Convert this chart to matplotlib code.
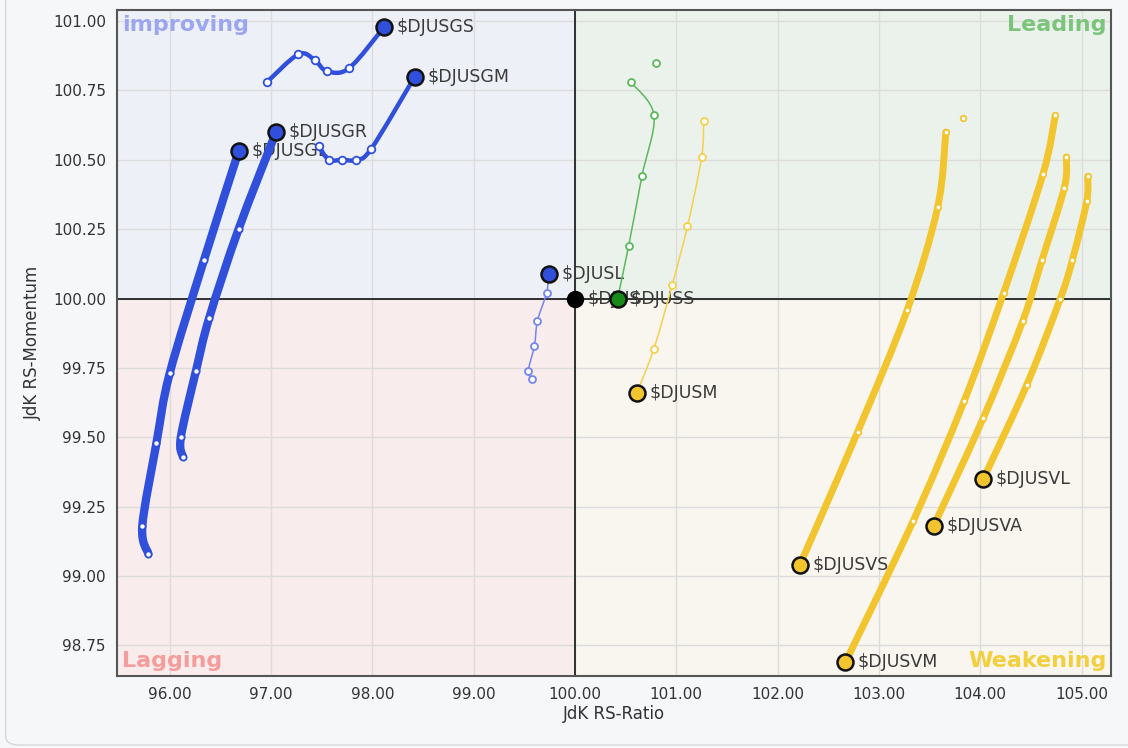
import numpy as np
import matplotlib.pyplot as plt
from matplotlib.path import Path
from matplotlib.patches import PathPatch, Rectangle, FancyBboxPatch

# ---------------------------------------------
# data: tails (oldest -> newest), last point is the head
# ---------------------------------------------
gs_x = [96.96, 97.27, 97.43, 97.55, 97.77, 98.12]
gs_y = [100.78, 100.88, 100.86, 100.82, 100.83, 100.98]

gm_x = [97.47, 97.57, 97.70, 97.84, 97.99, 98.42]
gm_y = [100.55, 100.50, 100.50, 100.50, 100.54, 100.80]

gr_x = [96.13, 96.11, 96.26, 96.39, 96.68, 97.05]
gr_y = [99.43, 99.50, 99.74, 99.93, 100.25, 100.60]

gl_x = [95.79, 95.73, 95.87, 96.00, 96.34, 96.68]
gl_y = [99.08, 99.18, 99.48, 99.73, 100.14, 100.53]

l_x = [99.58, 99.54, 99.60, 99.63, 99.72, 99.74]
l_y = [99.71, 99.74, 99.83, 99.92, 100.02, 100.09]

s_x = [100.80, 100.55, 100.78, 100.66, 100.53, 100.42]
s_y = [100.85, 100.78, 100.66, 100.44, 100.19, 100.00]

m_x = [101.27, 101.25, 101.11, 100.96, 100.78, 100.61]
m_y = [100.64, 100.51, 100.26, 100.05, 99.82, 99.66]

vs_x = [103.83, 103.66, 103.58, 103.28, 102.79, 102.22]
vs_y = [100.65, 100.60, 100.33, 99.96, 99.52, 99.04]

vm_x = [104.74, 104.62, 104.23, 103.84, 103.34, 102.67]
vm_y = [100.66, 100.45, 100.02, 99.63, 99.20, 98.69]

va_x = [104.85, 104.83, 104.61, 104.42, 104.03, 103.54]
va_y = [100.51, 100.40, 100.14, 99.92, 99.57, 99.18]

vl_x = [105.06, 105.05, 104.91, 104.79, 104.46, 104.03]
vl_y = [100.44, 100.35, 100.14, 100.00, 99.69, 99.35]

bench_name = "$DJUS"
bench_x, bench_y = 100.0, 100.0

x_ticks = [96, 97, 98, 99, 100, 101, 102, 103, 104, 105]
y_ticks = [98.75, 99.00, 99.25, 99.50, 99.75, 100.00, 100.25, 100.50, 100.75, 101.00]

BLUE = "#3050dc"
BLUE_L = "#7585ee"
GREEN = "#5cb85c"
GREEN_H = "#178a17"
YELLOW = "#f2c42e"
YELLOW_L = "#f5cf4d"

# name, xs, ys, line colour, head colour, line width, tail marker size, first drawn index
series = [
    ("$DJUSGS", gs_x, gs_y, BLUE, BLUE, 3.2, 5.5, 0),
    ("$DJUSGM", gm_x, gm_y, BLUE, BLUE, 3.2, 5.5, 0),
    ("$DJUSGR", gr_x, gr_y, BLUE, BLUE, 6.0, 4.5, 0),
    ("$DJUSGL", gl_x, gl_y, BLUE, BLUE, 6.0, 4.5, 0),
    ("$DJUSL", l_x, l_y, BLUE_L, BLUE, 1.1, 5.0, 0),
    ("$DJUSS", s_x, s_y, GREEN, GREEN_H, 1.1, 5.0, 1),
    ("$DJUSM", m_x, m_y, YELLOW_L, YELLOW, 1.1, 5.0, 0),
    ("$DJUSVS", vs_x, vs_y, YELLOW, YELLOW, 5.0, 4.0, 1),
    ("$DJUSVM", vm_x, vm_y, YELLOW, YELLOW, 5.0, 4.0, 0),
    ("$DJUSVA", va_x, va_y, YELLOW, YELLOW, 5.0, 4.0, 0),
    ("$DJUSVL", vl_x, vl_y, YELLOW, YELLOW, 5.0, 4.0, 0),
]


def smooth_path(xs, ys):
    # Catmull-Rom curve through the points, as cubic Bezier segments
    pts = np.column_stack([xs, ys])
    verts = [pts[0]]
    codes = [Path.MOVETO]
    n = len(pts)
    for i in range(n - 1):
        p0 = pts[i - 1] if i > 0 else pts[i]
        p1, p2 = pts[i], pts[i + 1]
        p3 = pts[i + 2] if i + 2 < n else pts[i + 1]
        verts += [p1 + (p2 - p0) / 6, p2 - (p3 - p1) / 6, p2]
        codes += [Path.CURVE4] * 3
    return Path(verts, codes)


fig = plt.figure(figsize=(11.28, 7.48), dpi=100, facecolor="#f6f7f9")

# rounded card border (only left/bottom show in the crop)
fig.patches.append(FancyBboxPatch((0.005, 0.004), 1.2, 1.2,
                                  boxstyle="round,pad=0,rounding_size=0.012",
                                  transform=fig.transFigure, facecolor="none",
                                  edgecolor="#d6d8dc", lw=1.0))

ax = fig.add_axes([0.1037, 0.0963, 0.8812, 0.8904])

xmin, xmax = 95.48, 105.29
ymin, ymax = 98.64, 101.04
ax.set_xlim(xmin, xmax)
ax.set_ylim(ymin, ymax)

# quadrant backgrounds
quads = [
    (xmin, bench_y, bench_x - xmin, ymax - bench_y, "#eef0f8"),
    (bench_x, bench_y, xmax - bench_x, ymax - bench_y, "#ebf2ec"),
    (xmin, ymin, bench_x - xmin, bench_y - ymin, "#f9ecec"),
    (bench_x, ymin, xmax - bench_x, bench_y - ymin, "#f8f6ef"),
]
for qx, qy, qw, qh, qc in quads:
    ax.add_patch(Rectangle((qx, qy), qw, qh, facecolor=qc, edgecolor="none", zorder=0))

ax.set_xticks(x_ticks)
ax.set_yticks(y_ticks)
ax.set_xticklabels([f"{v:.2f}" for v in x_ticks])
ax.set_yticklabels([f"{v:.2f}" for v in y_ticks])
ax.grid(True, color="#dcdcdc", lw=1.0, zorder=0.5)
ax.set_axisbelow(True)
ax.tick_params(length=0, labelsize=11, colors="#333333", pad=8)
for sp in ax.spines.values():
    sp.set_color("#555555")
    sp.set_linewidth(1.5)

ax.axhline(bench_y, color="#222222", lw=1.3, zorder=1)
ax.axvline(bench_x, color="#222222", lw=1.3, zorder=1)

ax.set_xlabel("JdK RS-Ratio", fontsize=12, color="#333333", labelpad=2)
ax.set_ylabel("JdK RS-Momentum", fontsize=12, color="#333333", labelpad=8)

# quadrant names
ax.text(0.005, 0.993, "improving", transform=ax.transAxes, ha="left", va="top",
        fontsize=16, fontweight="bold", color="#9ba6ee", zorder=1)
ax.text(0.996, 0.993, "Leading", transform=ax.transAxes, ha="right", va="top",
        fontsize=16, fontweight="bold", color="#7cc47c", zorder=1)
ax.text(0.005, 0.008, "Lagging", transform=ax.transAxes, ha="left", va="bottom",
        fontsize=16, fontweight="bold", color="#f59c9c", zorder=1)
ax.text(0.996, 0.008, "Weakening", transform=ax.transAxes, ha="right", va="bottom",
        fontsize=16, fontweight="bold", color="#f2cf3e", zorder=1)

# labels sit under the tails, as in the original
for name, xs, ys, lc, hc, lw, ms, start in series:
    ax.annotate(name, (xs[-1], ys[-1]), xytext=(9, 0), textcoords="offset points",
                va="center", ha="left", fontsize=12.5, color="#3a3a3a", zorder=1.5)
ax.annotate(bench_name, (bench_x, bench_y), xytext=(9, 0), textcoords="offset points",
            va="center", ha="left", fontsize=12.5, color="#3a3a3a", zorder=1.5)

# tails
for name, xs, ys, lc, hc, lw, ms, start in series:
    path = smooth_path(xs[start:], ys[start:])
    ax.add_patch(PathPatch(path, fill=False, edgecolor=lc, lw=lw,
                           capstyle="round", joinstyle="round", zorder=2))
    ax.plot(xs[:-1], ys[:-1], "o", ms=ms, mfc="white", mec=lc,
            mew=1.3, zorder=3)

# heads
for name, xs, ys, lc, hc, lw, ms, start in series:
    ax.plot(xs[-1], ys[-1], "o", ms=11.5, mfc=hc, mec="#111111", mew=1.8, zorder=5)
ax.plot(bench_x, bench_y, "o", ms=11.5, mfc="black", mec="black", zorder=5)

fig.savefig("out.png", dpi=100, facecolor=fig.get_facecolor())
